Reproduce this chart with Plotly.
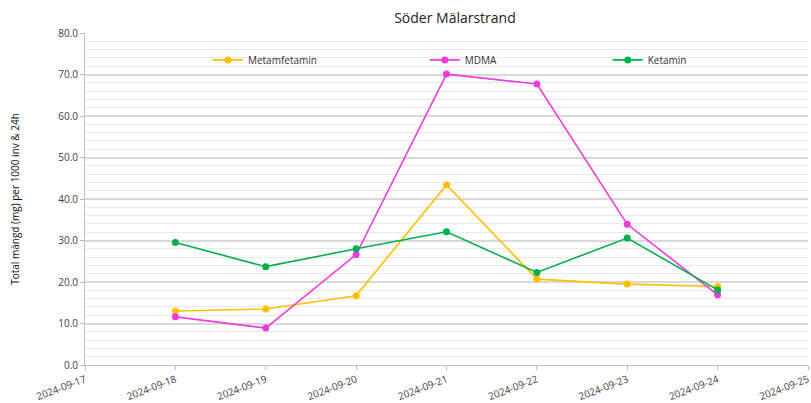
import plotly.graph_objects as go

dates = ["2024-09-18", "2024-09-19", "2024-09-20", "2024-09-21", "2024-09-22", "2024-09-23", "2024-09-24"]
metamfetamin = [13.0, 13.5, 16.7, 43.4, 20.7, 19.5, 18.9]
mdma = [11.6, 8.9, 26.6, 70.1, 67.7, 33.9, 16.9]
ketamin = [29.5, 23.7, 28.0, 32.1, 22.3, 30.6, 18.1]
series_names = ["Metamfetamin", "MDMA", "Ketamin"]
series_colors = ["#FFC000", "#EE3BDC", "#00B050"]
series_values = [metamfetamin, mdma, ketamin]

legend_ids = ["legend", "legend2", "legend3"]
legend_x = [0.170, 0.470, 0.723]

fig = go.Figure()
for name, vals, color, lid in zip(series_names, series_values, series_colors, legend_ids):
    fig.add_trace(go.Scatter(
        x=dates, y=vals, name=name, mode="lines+markers",
        line=dict(color=color, width=1.6),
        marker=dict(color=color, size=7),
        legend=lid,
    ))

leg_common = dict(orientation="h", y=0.919, xanchor="left", yanchor="middle",
                  bgcolor="rgba(0,0,0,0)", font=dict(size=10, color="#333333"),
                  itemwidth=30)

fig.update_layout(
    width=811, height=403,
    margin=dict(l=85, r=3, t=33, b=38, autoexpand=False),
    paper_bgcolor="white", plot_bgcolor="white",
    font=dict(family="Open Sans", size=10, color="#404040"),
    title=dict(text="Söder Mälarstrand", x=0.561, xanchor="center", y=0.955, yanchor="middle",
               font=dict(size=14, color="#222222")),
    legend=dict(x=legend_x[0], **leg_common),
    legend2=dict(x=legend_x[1], **leg_common),
    legend3=dict(x=legend_x[2], **leg_common),
    showlegend=True,
)
fig.update_xaxes(
    type="date", range=["2024-09-17", "2024-09-25"], dtick=86400000,
    tickformat="%Y-%m-%d", tickangle=-21, showgrid=False, automargin=False,
    ticklabeloverflow="allow",
    showline=True, linecolor="#BFBFBF", linewidth=1,
    ticks="outside", tickcolor="#BFBFBF", ticklen=4,
    tickfont=dict(size=10, color="#404040"),
)
fig.update_yaxes(
    range=[0, 80], dtick=10, tickformat=".1f", automargin=False,
    showgrid=True, gridcolor="#D9D9D9", gridwidth=1.5,
    minor=dict(dtick=2, showgrid=True, gridcolor="#EAEAEA", gridwidth=1),
    showline=True, linecolor="#BFBFBF", linewidth=1,
    ticks="outside", tickcolor="#BFBFBF", ticklen=4,
    zeroline=False,
    title=dict(text="Total mängd (mg) per 1000 inv & 24h", font=dict(size=10, color="#111111"), standoff=36),
    tickfont=dict(size=10, color="#404040"),
)

fig.write_html("out.html", config={"displayModeBar": False})

with open("out.html", "r", encoding="utf-8") as f:
    html = f.read()
html = html.replace("<body>", '<body style="margin:0;padding:0;overflow:hidden">', 1)
with open("out.html", "w", encoding="utf-8") as f:
    f.write(html)
